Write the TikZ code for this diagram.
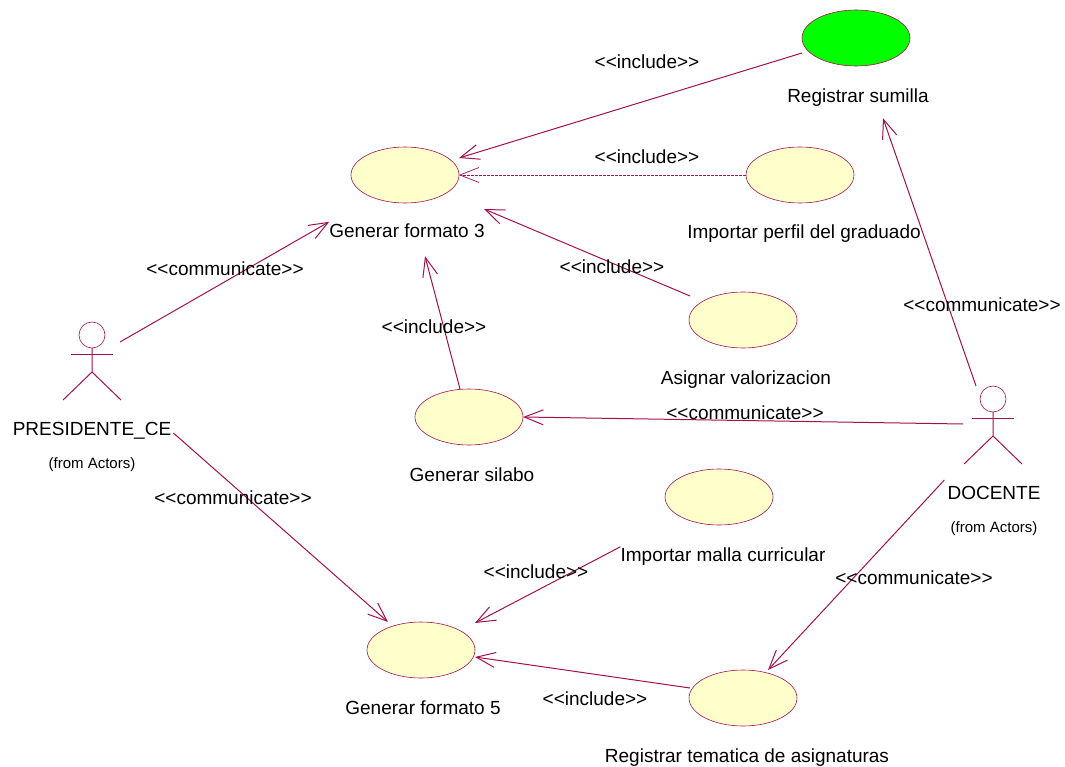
\documentclass[tikz,border=0pt]{standalone}
\usepackage{fontspec}
\setmainfont{Liberation Sans}
\usetikzlibrary{arrows.meta,shapes.geometric}
\definecolor{rosered}{HTML}{A3104E}
\definecolor{rosefill}{HTML}{FFFFCC}
\newcommand{\stereo}[1]{<{}<#1>{}>}
\tikzset{
	usecase/.style={draw=rosered,fill=rosefill,ellipse,line width=0.6pt,inner sep=0pt,outer sep=0pt,minimum width=108pt,minimum height=56pt},
	head/.style={draw=rosered,circle,line width=0.6pt,inner sep=0pt,outer sep=0pt,minimum size=26pt},
	caption/.style={inner sep=0pt,font=\fontsize{19}{22}\selectfont,text height=16pt,text depth=2pt},
	fromcaption/.style={inner sep=0pt,font=\fontsize{15}{17}\selectfont,text height=12pt,text depth=1pt},
	link/.style={draw=rosered,line width=1pt,-{Straight Barb[length=19pt,width=15pt]}},
	limb/.style={draw=rosered,line width=1pt},
}
\begin{document}
\begin{tikzpicture}[x=1pt,y=-1pt]
	\useasboundingbox (0,0) rectangle (1065,767);

	\node[usecase,fill=green] (sumilla) at (856,38) {};
	\node[usecase] (formato3) at (405,175) {};
	\node[usecase] (perfil) at (800,175) {};
	\node[usecase] (valorizacion) at (743,320) {};
	\node[usecase] (silabo) at (469,417) {};
	\node[usecase] (malla) at (719,497) {};
	\node[usecase] (formato5) at (421,650) {};
	\node[usecase] (tematica) at (743,698) {};

	\node[caption] (namesumilla) at (858,96) {Registrar sumilla};
	\node[caption] (nameformato3) at (407,231) {Generar formato 3};
	\node[caption] (nameperfil) at (804,232) {Importar perfil del graduado};
	\node[caption] (namevalorizacion) at (746,377) {Asignar valorizacion};
	\node[caption] (namesilabo) at (472,474) {Generar silabo};
	\node[caption] (namemalla) at (723,554) {Importar malla curricular};
	\node[caption] (nameformato5) at (423,707) {Generar formato 5};
	\node[caption] (nametematica) at (747,755) {Registrar tematica de asignaturas};

	% actors
	\foreach \actor/\x/\y in {presidente/92/335,docente/993/399} {
		\node[head] (\actor) at (\x,\y) {};
		\draw[limb] (\actor.south) -- ++(0,24) coordinate (\actor hip) -- ++(-29,28);
		\draw[limb] (\actor hip) -- ++(29,28);
		\draw[limb] ([shift={(-21,6)}]\actor.south) -- ++(42,0);
	}

	\node[caption] (namepresidente) at (92,428) {PRESIDENTE\_CE};
	\node[fromcaption] (frompresidente) at (92,463) {(from Actors)};
	\node[caption] (namedocente) at (994,492) {DOCENTE};
	\node[fromcaption] (fromdocente) at (994,527) {(from Actors)};

	\draw[link] ([yshift=-15pt]sumilla.west) -- ([yshift=17pt]formato3.east);
	\draw[link,dash pattern=on 3pt off 1pt,line width=0.7pt] (perfil.west) -- (formato3.east);
	\draw[link] ([xshift=1pt,yshift=24pt]valorizacion.west) -- ([xshift=25pt,yshift=-34pt]formato3.east);
	\draw[link] ([xshift=-9pt]silabo.north) -- ([xshift=18pt,yshift=-16pt]nameformato3.south);
	\draw[link] ([xshift=15pt,yshift=-7pt]presidente.east) -- (nameformato3.north west);
	\draw[link] ([xshift=2pt,yshift=-5pt]namepresidente.east) -- ([xshift=-33pt]formato5.north);
	\draw[link] ([xshift=-17pt]docente.north) -- ([xshift=25pt,yshift=-13pt]namesumilla.south);
	\draw[link] ([xshift=-17pt,yshift=-25pt]docente.west) -- (silabo.east);
	\draw[link] ([xshift=-3pt,yshift=12pt]namedocente.west) -- ([xshift=25pt]tematica.north);
	\draw[link] ([yshift=-2pt]namemalla.north west) -- ([yshift=27pt]formato5.east);
	\draw[link] ([xshift=1pt,yshift=10pt]tematica.west) -- ([yshift=-7pt]formato5.east);

	\node[caption] (include1) at (647,62) {\stereo{include}};
	\node[caption] (include2) at (647,157) {\stereo{include}};
	\node[caption] (include3) at (612,267) {\stereo{include}};
	\node[caption] (include4) at (434,326) {\stereo{include}};
	\node[caption] (include5) at (536,571) {\stereo{include}};
	\node[caption] (include6) at (595,698) {\stereo{include}};

	\node[caption] (communicate1) at (225,269) {\stereo{communicate}};
	\node[caption] (communicate2) at (982,304) {\stereo{communicate}};
	\node[caption] (communicate3) at (745,412) {\stereo{communicate}};
	\node[caption] (communicate4) at (233,497) {\stereo{communicate}};
	\node[caption] (communicate5) at (914,577) {\stereo{communicate}};
\end{tikzpicture}
\end{document}
